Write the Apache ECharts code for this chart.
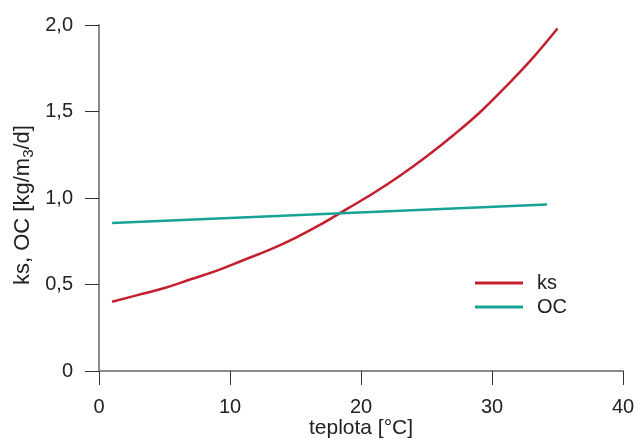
<!DOCTYPE html>
<html>
<head>
<meta charset="utf-8">
<script src="https://cdn.jsdelivr.net/npm/echarts@6/dist/echarts.min.js"></script>
<style>
  html, body { margin: 0; padding: 0; background: #fff; }
  #chart { width: 638px; height: 439px; }
</style>
</head>
<body>
<div id="chart"></div>
<script>
// teplota [°C]
const ksTemp = [1, 3, 5, 7, 9, 11, 13, 15, 17, 19, 21, 23, 25, 27, 29, 31, 33, 35];
const ksValues = [0.40, 0.44, 0.48, 0.53, 0.58, 0.64, 0.70, 0.77, 0.85, 0.94, 1.03, 1.13, 1.24, 1.36, 1.49, 1.64, 1.80, 1.98];
const ocTemp = [1, 34.2];
const ocValues = [0.855, 0.963];
const xTicks = [0, 10, 20, 30, 40];
const yTicks = [0, 0.5, 1.0, 1.5, 2.0];

const font = 'Liberation Sans, Arial, sans-serif';
const textColor = '#222';

function pairs(xs, ys) {
  return xs.map((x, i) => [x, ys[i]]);
}

const chart = echarts.init(document.getElementById('chart'));
chart.setOption({
  animation: false,
  grid: { left: 99, right: 15, top: 25, bottom: 68, outerBoundsMode: 'none', containLabel: false },
  legend: {
    orient: 'vertical',
    left: 470,
    top: 268,
    icon: 'rect',
    itemWidth: 48,
    itemHeight: 3,
    itemGap: 4,
    textStyle: { fontFamily: font, fontSize: 20, lineHeight: 20, color: textColor, padding: [0, 0, 0, 9] },
    data: ['ks', 'OC']
  },
  xAxis: {
    type: 'value',
    min: xTicks[0],
    max: xTicks[xTicks.length - 1],
    interval: 10,
    name: 'teplota [°C]',
    nameLocation: 'middle',
    nameGap: 47,
    nameMoveOverlap: false,
    nameTextStyle: { fontFamily: font, fontSize: 21, color: textColor },
    axisLine: { lineStyle: { color: '#8a8a8a', width: 2 } },
    axisTick: { show: true, inside: false, length: 14, lineStyle: { color: '#333', width: 1 } },
    axisLabel: { margin: 26, fontFamily: font, fontSize: 20, color: textColor },
    splitLine: { show: false }
  },
  yAxis: {
    type: 'value',
    min: yTicks[0],
    max: yTicks[yTicks.length - 1],
    interval: 0.5,
    name: '{a|ks, OC [kg/m}{s|3}{a|/d]}',
    nameLocation: 'middle',
    nameRotate: 90,
    nameGap: 63,
    nameMoveOverlap: false,
    nameTextStyle: {
      fontFamily: font,
      fontSize: 22,
      color: textColor,
      padding: [0, 14, 0, 0],
      rich: {
        a: { fontFamily: font, fontSize: 22, lineHeight: 26, color: textColor },
        s: { fontFamily: font, fontSize: 15, lineHeight: 15, verticalAlign: 'bottom', color: textColor }
      }
    },
    axisLine: { show: true, lineStyle: { color: '#8a8a8a', width: 2 } },
    axisTick: { show: true, inside: false, length: 14, lineStyle: { color: '#333', width: 1 } },
    axisLabel: {
      margin: 26,
      fontFamily: font,
      fontSize: 20,
      color: textColor,
      formatter: v => v === 0 ? '0' : v.toFixed(1).replace('.', ',')
    },
    splitLine: { show: false }
  },
  series: [
    {
      name: 'ks',
      type: 'line',
      smooth: 0.4,
      showSymbol: false,
      color: '#c41f2e',
      lineStyle: { width: 2.5 },
      data: pairs(ksTemp, ksValues)
    },
    {
      name: 'OC',
      type: 'line',
      showSymbol: false,
      color: '#16a396',
      lineStyle: { width: 2.5 },
      data: pairs(ocTemp, ocValues)
    }
  ]
});
</script>
</body>
</html>
